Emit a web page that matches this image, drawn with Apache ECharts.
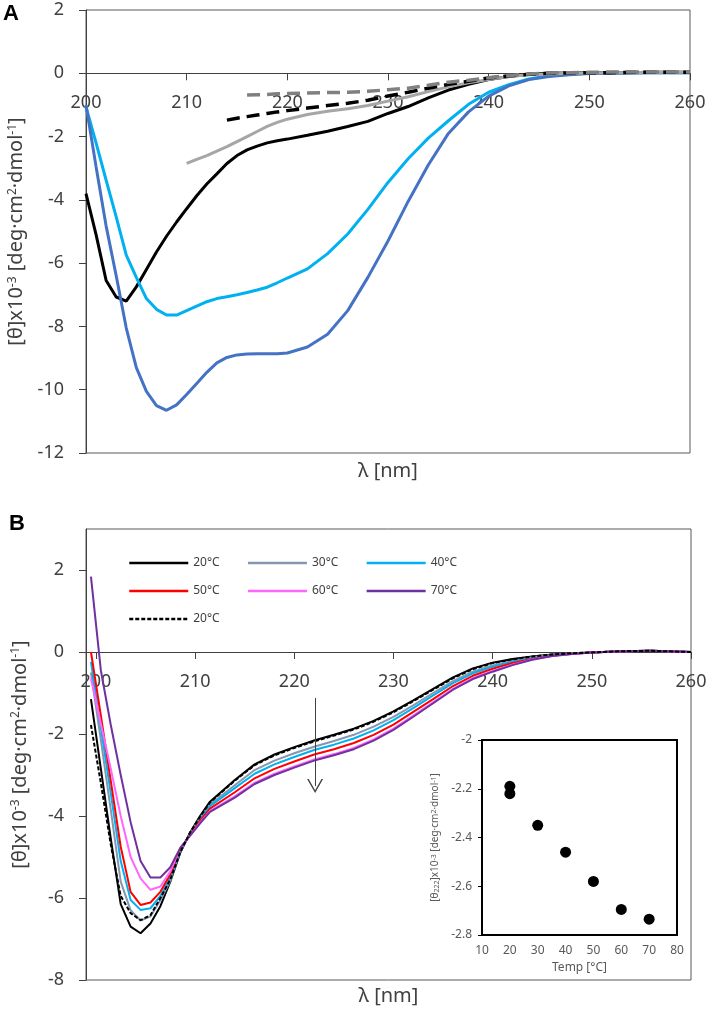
<!DOCTYPE html>
<html><head><meta charset="utf-8">
<script src="https://cdn.jsdelivr.net/npm/echarts@6/dist/echarts.min.js"></script>
<style>html,body{margin:0;padding:0;background:#fff}#c{width:709px;height:1011px}</style>
</head><body><div id="c"></div>
<script>
// ---------- Panel A data ----------
const wlA = [200,201,202,203,204,205,206,207,208,209,210,211,212,213,214,215,216,217,218,219,220,
  222,224,226,228,230,232,234,236,238,240,242,244,246,248,250,252,254,256,258,260];
const aBlack = [-3.8,-5.1,-6.55,-7.07,-7.2,-6.75,-6.2,-5.65,-5.15,-4.7,-4.28,-3.87,-3.5,-3.18,-2.85,-2.6,-2.42,-2.3,-2.2,-2.13,-2.08,
  -1.96,-1.83,-1.68,-1.52,-1.27,-1.05,-0.78,-0.53,-0.35,-0.2,-0.1,-0.03,0,0.01,0.02,0.02,0.02,0.03,0.03,0.03];
const aLightBlue = [-1.06,-2.2,-3.38,-4.54,-5.75,-6.45,-7.12,-7.46,-7.64,-7.64,-7.5,-7.36,-7.22,-7.12,-7.06,-7.0,-6.93,-6.85,-6.76,-6.62,-6.47,
  -6.18,-5.7,-5.08,-4.3,-3.45,-2.7,-2.05,-1.5,-0.98,-0.6,-0.36,-0.18,-0.08,-0.03,0,0.01,0.02,0.02,0.02,0.02];
const aBlue = [-1.0,-2.95,-4.83,-6.4,-8.05,-9.3,-10.05,-10.5,-10.65,-10.48,-10.15,-9.8,-9.45,-9.15,-8.98,-8.9,-8.87,-8.86,-8.86,-8.86,-8.84,
  -8.65,-8.25,-7.5,-6.45,-5.3,-4.05,-2.9,-1.9,-1.22,-0.72,-0.4,-0.2,-0.1,-0.05,-0.01,0,0.01,0.02,0.02,0.02];
const aGray = [null,null,null,null,null,null,null,null,null,null,-2.85,-2.72,-2.6,-2.46,-2.32,-2.16,-2.0,-1.84,-1.68,-1.55,-1.45,
  -1.3,-1.2,-1.12,-1.02,-0.88,-0.74,-0.58,-0.43,-0.3,-0.2,-0.1,-0.05,-0.02,0,0.01,0.02,0.02,0.03,0.03,0.03];
const aBlackDash = [null,null,null,null,null,null,null,null,null,null,null,null,null,null,-1.48,-1.42,-1.37,-1.32,-1.27,-1.22,-1.18,
  -1.1,-1.02,-0.95,-0.85,-0.72,-0.6,-0.47,-0.35,-0.25,-0.15,-0.08,-0.03,0,0.01,0.02,0.02,0.03,0.03,0.03,0.03];
const aGrayDash = [null,null,null,null,null,null,null,null,null,null,null,null,null,null,null,null,-0.69,-0.68,-0.67,-0.65,-0.64,
  -0.62,-0.61,-0.6,-0.57,-0.52,-0.47,-0.38,-0.28,-0.22,-0.14,-0.07,-0.02,0.01,0.02,0.03,0.04,0.04,0.04,0.04,0.04];

// ---------- Panel B data ----------
const wlB = [199.5,200.5,201.5,202.5,203.5,204.5,205.5,206.5,207.5,208.5,209.5,210.5,211.5,
  214,216,218,220,222,224,226,228,230,232,234,236,238,240,242,244,246,248,250,253,256,260];
const b20 = [-1.15,-2.85,-4.55,-6.15,-6.7,-6.86,-6.62,-6.2,-5.6,-4.9,-4.4,-4.0,-3.65,
  -3.12,-2.74,-2.5,-2.32,-2.16,-2.02,-1.87,-1.68,-1.45,-1.18,-0.9,-0.62,-0.4,-0.26,-0.17,-0.11,-0.06,-0.03,-0.01,0.02,0.03,0];
const b30 = [-0.5,-2.15,-3.85,-5.6,-6.3,-6.55,-6.45,-6.05,-5.58,-4.87,-4.42,-4.05,-3.72,
  -3.25,-2.88,-2.65,-2.47,-2.31,-2.17,-2.02,-1.82,-1.58,-1.3,-1.0,-0.71,-0.48,-0.33,-0.22,-0.13,-0.07,-0.03,-0.01,0.02,0.03,0];
const b40 = [-0.24,-1.85,-3.45,-5.1,-6.05,-6.29,-6.25,-5.95,-5.5,-4.85,-4.43,-4.08,-3.76,
  -3.32,-2.97,-2.74,-2.56,-2.39,-2.26,-2.11,-1.91,-1.66,-1.37,-1.06,-0.76,-0.52,-0.36,-0.24,-0.15,-0.08,-0.04,-0.01,0.02,0.03,0];
const b50 = [0.0,-1.55,-3.15,-4.75,-5.85,-6.17,-6.11,-5.85,-5.42,-4.82,-4.45,-4.12,-3.82,
  -3.42,-3.08,-2.85,-2.67,-2.5,-2.37,-2.22,-2.02,-1.77,-1.46,-1.15,-0.83,-0.58,-0.41,-0.27,-0.17,-0.09,-0.04,-0.01,0.02,0.03,0];
const b60 = [-0.64,-1.75,-2.85,-4.0,-5.0,-5.52,-5.8,-5.72,-5.35,-4.8,-4.47,-4.16,-3.88,
  -3.52,-3.19,-2.97,-2.79,-2.62,-2.49,-2.34,-2.13,-1.87,-1.55,-1.23,-0.9,-0.64,-0.46,-0.31,-0.18,-0.1,-0.05,-0.01,0.02,0.03,0];
const b70 = [1.84,-0.45,-1.78,-3.0,-4.15,-5.1,-5.5,-5.5,-5.25,-4.78,-4.48,-4.18,-3.9,
  -3.55,-3.22,-3.0,-2.82,-2.65,-2.52,-2.37,-2.16,-1.9,-1.58,-1.25,-0.92,-0.66,-0.48,-0.32,-0.19,-0.1,-0.05,-0.01,0.02,0.03,0];
const b20back = [-1.78,-3.2,-4.7,-5.95,-6.37,-6.54,-6.42,-6.0,-5.55,-4.88,-4.4,-4.02,-3.67,
  -3.14,-2.76,-2.52,-2.34,-2.18,-2.04,-1.89,-1.7,-1.47,-1.2,-0.92,-0.64,-0.42,-0.27,-0.18,-0.11,-0.06,-0.03,-0.01,0.02,0.03,0];
const bNames = ['20°C','30°C','40°C','50°C','60°C','70°C','20°C '];

// arrow annotation (wavelength, start value, end value)
const arrowX = 222.1;
const arrowY = [-1.12, -3.27];

// ---------- Inset data ----------
const temps = [20,20,30,40,50,60,70];
const theta222 = [-2.19,-2.22,-2.35,-2.46,-2.58,-2.695,-2.735];

// tick label sets
const xTicksA = [200,210,220,230,240,250,260];
const xTicksB = [200,210,220,230,240,250,260];
const yTicksB = [-8,-6,-4,-2,0,2];

// ---------- layout ----------
const GA = {left: 86, top: 10, width: 604, height: 443, ymin: -12, ymax: 2};
const GB = {left: 86, top: 529, width: 605, height: 451, ymin: -8, ymax: 3};
// distance (px) from grid bottom up to the value 0 -> x axes sit on y = 0
const zeroOffset = g => -g.height * (0 - g.ymin) / (g.ymax - g.ymin);

const FONT = 'Noto Sans';
const TXT = '#404040';
const pairs = (xs, ys) => xs.map((x, i) => [x, ys[i]]).filter(p => p[1] !== null);

const supName = {
  a: {fontSize: 20, color: TXT, fontFamily: FONT},
  s: {fontSize: 12, color: TXT, fontFamily: FONT, verticalAlign: 'top'}
};
const yNameMain = '{a|[θ]x10}{s|-3}{a| [deg·cm}{s|2}{a|·dmol}{s|-1}{a|]}';
const yNameInset = '{a|[θ}{b|222}{a|]x10}{s|-3}{a| [deg·cm}{s|2}{a|·dmol}{s|-1}{a|]}';

const chart = echarts.init(document.getElementById('c'));

const lineA = (name, ys, color, width, dash) => ({
  name, type: 'line', xAxisIndex: 0, yAxisIndex: 0, data: pairs(wlA, ys),
  symbol: 'none', smooth: false, animation: false,
  lineStyle: {color, width, type: dash || 'solid', cap: 'butt'}, itemStyle: {color}
});
const bColors = ['#000000','#8497B0','#00B0F0','#FF0000','#FF66FF','#7030A0','#000000'];
const bData = [b20,b30,b40,b50,b60,b70,b20back];
const seriesB = bData.map((ys, i) => ({
  name: bNames[i], type: 'line', xAxisIndex: 1, yAxisIndex: 1, data: pairs(wlB, ys),
  symbol: 'none', showSymbol: false, animation: false,
  lineStyle: {color: bColors[i], width: 2, type: i === 6 ? [4, 2] : 'solid'},
  itemStyle: {color: bColors[i]}
}));
seriesB[0].markLine = {
  silent: true, animation: false,
  symbol: ['none', 'path://M0,10 L5,0 L10,10 L9,10 L5,2 L1,10 Z'],
  symbolSize: [16, 14],
  label: {show: false},
  lineStyle: {color: '#404040', width: 1, type: 'solid'},
  data: [[{coord: [arrowX, arrowY[0]]}, {coord: [arrowX, arrowY[1]]}]]
};

const legendBase = {
  padding: 0, itemWidth: 59, itemHeight: 14, itemGap: 27, orient: 'horizontal',
  textStyle: {fontSize: 12, color: TXT, fontFamily: FONT}, selectedMode: false,
  itemStyle: {opacity: 0}, lineStyle: {width: 2.5}
};

const axisNameStyle = {fontSize: 20, color: TXT, fontFamily: FONT};

const option = {
  backgroundColor: '#fff',
  animation: false,
  textStyle: {fontFamily: FONT},
  title: [
    {text: 'A', left: 3, top: 3, padding: 0, textStyle: {fontSize: 22, fontWeight: 'bold', color: '#000', fontFamily: 'Liberation Sans'}},
    {text: 'B', left: 9, top: 513, padding: 0, textStyle: {fontSize: 22, fontWeight: 'bold', color: '#000', fontFamily: 'Liberation Sans'}}
  ],
  legend: [
    Object.assign({}, legendBase, {left: 128, top: 557, data: bNames.slice(0, 3)}),
    Object.assign({}, legendBase, {left: 128, top: 585, data: bNames.slice(3, 6)}),
    Object.assign({}, legendBase, {left: 128, top: 613, data: bNames.slice(6)})
  ],
  grid: [
    {left: GA.left, top: GA.top, width: GA.width, height: GA.height, show: true, borderColor: '#595959', borderWidth: 1,
     backgroundColor: 'transparent', outerBoundsMode: 'none', containLabel: false},
    {left: GB.left, top: GB.top, width: GB.width, height: GB.height, show: true, borderColor: '#595959', borderWidth: 1,
     backgroundColor: 'transparent', outerBoundsMode: 'none', containLabel: false},
    {left: 482, top: 740, width: 195, height: 195, show: true, borderColor: '#000', borderWidth: 2,
     backgroundColor: 'transparent', outerBoundsMode: 'none', containLabel: false}
  ],
  xAxis: [
    {gridIndex: 0, type: 'value', min: 200, max: 260, interval: 10, position: 'bottom', offset: zeroOffset(GA),
     axisLine: {show: true, onZero: false, lineStyle: {color: '#404040', width: 1}},
     axisTick: {show: true, length: 7, lineStyle: {color: '#404040'}},
     axisLabel: {fontSize: 18, color: TXT, margin: 21, fontFamily: FONT, customValues: xTicksA},
     splitLine: {show: false},
     name: 'λ [nm]', nameLocation: 'middle', nameGap: 388, nameTextStyle: axisNameStyle},
    {gridIndex: 1, type: 'value', min: 199, max: 260, position: 'bottom', offset: zeroOffset(GB),
     axisLine: {show: true, onZero: false, lineStyle: {color: '#404040', width: 1}},
     axisTick: {show: true, length: 7, lineStyle: {color: '#404040'}, customValues: xTicksB},
     axisLabel: {fontSize: 18, color: TXT, margin: 21, fontFamily: FONT, customValues: xTicksB},
     splitLine: {show: false},
     name: 'λ [nm]', nameLocation: 'middle', nameGap: 334, nameTextStyle: axisNameStyle},
    {gridIndex: 2, type: 'value', min: 10, max: 80, interval: 10,
     axisLine: {show: true, onZero: false, lineStyle: {color: '#000', width: 2}},
     axisTick: {show: false},
     axisLabel: {fontSize: 12, color: '#595959', margin: 10, fontFamily: FONT},
     splitLine: {show: false},
     name: 'Temp [°C]', nameLocation: 'middle', nameGap: 27,
     nameTextStyle: {fontSize: 12, color: '#595959', fontFamily: FONT}}
  ],
  yAxis: [
    {gridIndex: 0, type: 'value', min: GA.ymin, max: GA.ymax, interval: 2,
     axisLine: {show: true, onZero: false, lineStyle: {color: '#404040', width: 1}},
     axisTick: {show: true, length: 7, lineStyle: {color: '#404040'}},
     axisLabel: {fontSize: 18, color: TXT, margin: 22, fontFamily: FONT},
     splitLine: {show: false},
     name: yNameMain, nameLocation: 'middle', nameGap: 56, nameRotate: 90,
     nameTextStyle: {rich: supName}},
    {gridIndex: 1, type: 'value', min: GB.ymin, max: GB.ymax,
     axisLine: {show: true, onZero: false, lineStyle: {color: '#404040', width: 1}},
     axisTick: {show: true, length: 7, lineStyle: {color: '#404040'}, customValues: yTicksB},
     axisLabel: {fontSize: 18, color: TXT, margin: 22, fontFamily: FONT, customValues: yTicksB},
     splitLine: {show: false},
     name: yNameMain, nameLocation: 'middle', nameGap: 56, nameRotate: 90,
     nameTextStyle: {rich: supName}},
    {gridIndex: 2, type: 'value', min: -2.8, max: -2, interval: 0.2,
     axisLine: {show: true, onZero: false, lineStyle: {color: '#000', width: 2}},
     axisTick: {show: true, length: 4, lineStyle: {color: '#000'}},
     axisLabel: {fontSize: 12, color: '#595959', margin: 10, fontFamily: FONT},
     splitLine: {show: false},
     name: yNameInset, nameLocation: 'middle', nameGap: 42, nameRotate: 90,
     nameTextStyle: {rich: {
       a: {fontSize: 10, color: '#595959', fontFamily: FONT},
       s: {fontSize: 7, color: '#595959', fontFamily: FONT, verticalAlign: 'top'},
       b: {fontSize: 7, color: '#595959', fontFamily: FONT, verticalAlign: 'bottom'}
     }}}
  ],
  series: [
    lineA('A1', aBlack, '#000000', 3),
    lineA('A2', aLightBlue, '#00B0F0', 3),
    lineA('A3', aBlue, '#4472C4', 3),
    lineA('A4', aGray, '#A6A6A6', 3),
    lineA('A5', aBlackDash, '#000000', 3.5, [13, 7]),
    lineA('A6', aGrayDash, '#808080', 3.5, [13, 7])
  ].concat(seriesB).concat([
    {name: 'inset', type: 'scatter', xAxisIndex: 2, yAxisIndex: 2, data: pairs(temps, theta222),
     symbol: 'circle', symbolSize: 11, itemStyle: {color: '#000', opacity: 1}, animation: false}
  ])
};
chart.setOption(option);
</script></body></html>
